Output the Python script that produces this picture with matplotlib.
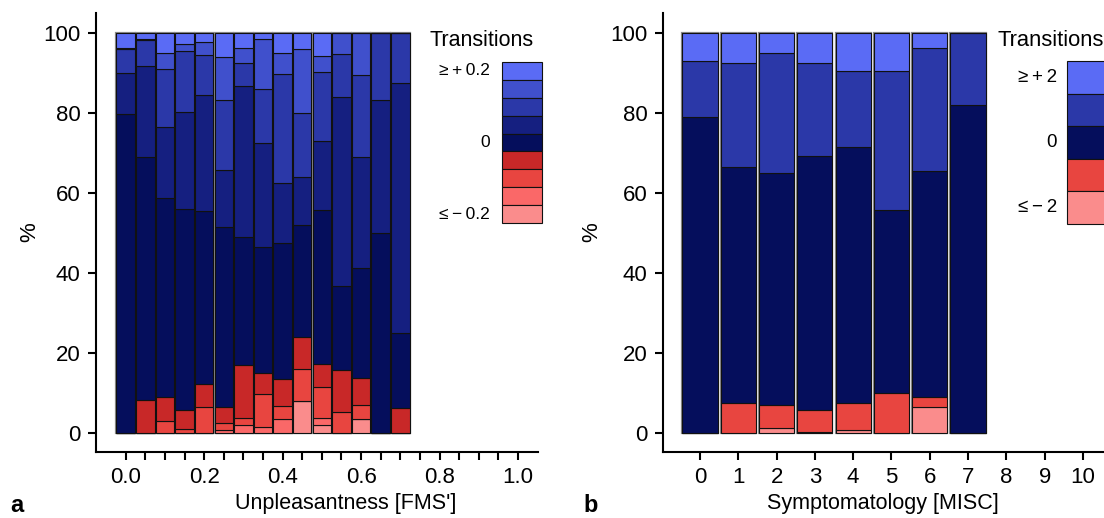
import matplotlib.pyplot as plt
import numpy as np
from matplotlib.patches import Rectangle

plt.rcParams['font.family'] = ['Liberation Sans', 'DejaVu Sans']

W, H = 1104, 518
TS = '\u2009'   # thin space used in legend labels

# ------------------------------------------------------
# Data: share (%) of each transition level, bottom -> top
# ------------------------------------------------------

# panel a, Unpleasantness [FMS'], bins 0.00 .. 0.70
fms_x = np.arange(15) * 0.05
fms_m20 = [0, 0, 0, 0, 0, 0, 0, 0, 0, 8.0, 2.0, 0, 3.5, 0, 0]
fms_m15 = [0, 0, 0, 0, 0, 0.8, 2.0, 1.4, 3.4, 0, 1.7, 0, 0, 0, 0]
fms_m10 = [0, 0, 2.9, 1.0, 6.6, 1.7, 1.7, 8.3, 3.3, 7.9, 7.8, 5.2, 3.4, 0, 0]
fms_m05 = [0, 8.2, 6.2, 4.8, 5.6, 4.1, 13.2, 5.4, 6.8, 8.0, 5.8, 10.5, 6.9, 0, 6.2]
fms_0 = [79.7, 60.9, 49.7, 50.1, 43.3, 45.0, 32.1, 31.4, 33.9, 28.1, 38.5, 21.1, 27.5, 50.0, 18.8]
fms_p05 = [10.2, 22.6, 17.7, 24.4, 28.9, 14.1, 37.7, 26.0, 15.2, 12.0, 17.2, 47.3, 27.7, 33.2, 62.6]
fms_p10 = [6.0, 6.6, 14.4, 15.1, 10.0, 17.5, 5.7, 13.6, 27.2, 15.9, 17.3, 10.7, 20.6, 16.8, 12.4]
fms_p15 = [0.4, 0.2, 4.1, 1.9, 3.4, 10.9, 3.9, 12.5, 5.2, 16.1, 3.9, 5.2, 10.4, 0, 0]
fms_p20 = [3.7, 1.5, 5.0, 2.7, 2.2, 5.9, 3.7, 1.4, 5.0, 4.0, 5.8, 0, 0, 0, 0]
fms_series = [fms_m20, fms_m15, fms_m10, fms_m05, fms_0, fms_p05, fms_p10, fms_p15, fms_p20]
fms_colors = ['#FA8C8C', '#FA6868', '#E84540', '#C82828', '#050E5C',
              '#151F80', '#2B38A8', '#4050CC', '#5A6BF5']
fms_legend = {0: f'≥{TS}+{TS}0.2', 4: '0', 8: f'≤{TS}−{TS}0.2'}   # row index (top -> bottom)

# panel b, Symptomatology [MISC], 0 .. 7
misc_x = np.arange(8)
misc_m2 = [0, 0, 1.2, 0.2, 0.8, 0, 6.5, 0]
misc_m1 = [0, 7.6, 5.9, 5.5, 6.7, 10.0, 2.5, 0]
misc_0 = [79.1, 59.0, 58.0, 63.6, 63.9, 45.8, 56.6, 81.9]
misc_p1 = [13.8, 25.8, 29.8, 23.1, 19.1, 34.8, 30.7, 18.1]
misc_p2 = [7.1, 7.6, 5.1, 7.6, 9.5, 9.4, 3.7, 0]
misc_series = [misc_m2, misc_m1, misc_0, misc_p1, misc_p2]
misc_colors = ['#FA8C8C', '#E84540', '#050E5C', '#2B38A8', '#5A6BF5']
misc_legend = {0: f'≥{TS}+{TS}2', 2: '0', 4: f'≤{TS}−{TS}2'}


def fig_rect(x0, y0, x1, y1):
    # pixel box (top-left origin) -> figure fraction [l, b, w, h]
    return [x0 / W, 1 - y1 / H, (x1 - x0) / W, (y1 - y0) / H]


def stacked(ax, x, series, colors, width):
    bottom = np.zeros(len(x))
    for vals, c in zip(series, colors):
        vals = np.asarray(vals, dtype=float)
        ax.bar(x, vals, width, bottom=bottom, color=c, edgecolor='#111111',
               linewidth=0.8, zorder=3)
        bottom += vals
    ax.bar(x, bottom, width, color='none', edgecolor='#8a8a8a', linewidth=1.6, zorder=2)


def style(ax):
    for s in ['top', 'right']:
        ax.spines[s].set_visible(False)
    for s in ['left', 'bottom']:
        ax.spines[s].set_linewidth(1.5)
    ax.tick_params(width=1.5, length=6, labelsize=16, pad=5)
    ax.set_yticks([0, 20, 40, 60, 80, 100])


def legend(colors, labels, x0, x1, y0, y1, label_x, title_x, title_size, label_size):
    n = len(colors)
    h = (y1 - y0) / n
    for i, c in enumerate(colors[::-1]):
        l, b, w, hh = fig_rect(x0, y0 + i * h, x1, y0 + (i + 1) * h)
        fig.add_artist(Rectangle((l, b), w, hh, transform=fig.transFigure,
                                 facecolor=c, edgecolor='#111111', linewidth=0.8))
        if i in labels:
            fig.text(label_x / W, 1 - (y0 + (i + 0.5) * h) / H, labels[i],
                     ha='right', va='center', fontsize=label_size)
    fig.text(title_x / W, 1 - 40 / H, 'Transitions', ha='left', va='center',
             fontsize=title_size)


fig = plt.figure(figsize=(W / 100, H / 100), dpi=100)

# ------------------------------------------------------
# Panel a
# ------------------------------------------------------
ax1 = fig.add_axes(fig_rect(96, 13, 538, 452))
stacked(ax1, fms_x, fms_series, fms_colors, 0.047)
ax1.set_xlim(-0.0757, 1.051)
ax1.set_ylim(-4.75, 105)
style(ax1)
ticks = np.round(np.arange(0, 1.0001, 0.05), 2)
ax1.set_xticks(ticks)
ax1.set_xticklabels([f'{t:.1f}' if round(t * 100) % 20 == 0 else '' for t in ticks])
ax1.set_ylabel('%', fontsize=16)
ax1.yaxis.set_label_coords((40 - 96) / 442, 0.5)
fig.text(346 / W, 1 - 503 / H, "Unpleasantness [FMS']", ha='center', va='center', fontsize=15.5)
fig.text(10 / W, 1 - 505 / H, 'a', ha='left', va='center', fontsize=17, fontweight='bold')
legend(fms_colors, fms_legend, 502, 542, 62, 223, 490, 430, 15.5, 12.5)

# ------------------------------------------------------
# Panel b
# ------------------------------------------------------
ax2 = fig.add_axes(fig_rect(663, 13, 1135, 452))
stacked(ax2, misc_x, misc_series, misc_colors, 0.92)
ax2.set_xlim(-0.966, 11.36)
ax2.set_ylim(-4.75, 105)
style(ax2)
ax2.set_xticks(np.arange(0, 11))
ax2.set_ylabel('%', fontsize=16)
ax2.yaxis.set_label_coords((602 - 663) / 472, 0.5)
fig.text(883 / W, 1 - 503 / H, 'Symptomatology [MISC]', ha='center', va='center', fontsize=15.5)
fig.text(583 / W, 1 - 505 / H, 'b', ha='left', va='center', fontsize=17, fontweight='bold')
legend(misc_colors, misc_legend, 1067, 1130, 61, 224, 1057, 998, 15.8, 13.5)

fig.savefig('out.png', dpi=100)
